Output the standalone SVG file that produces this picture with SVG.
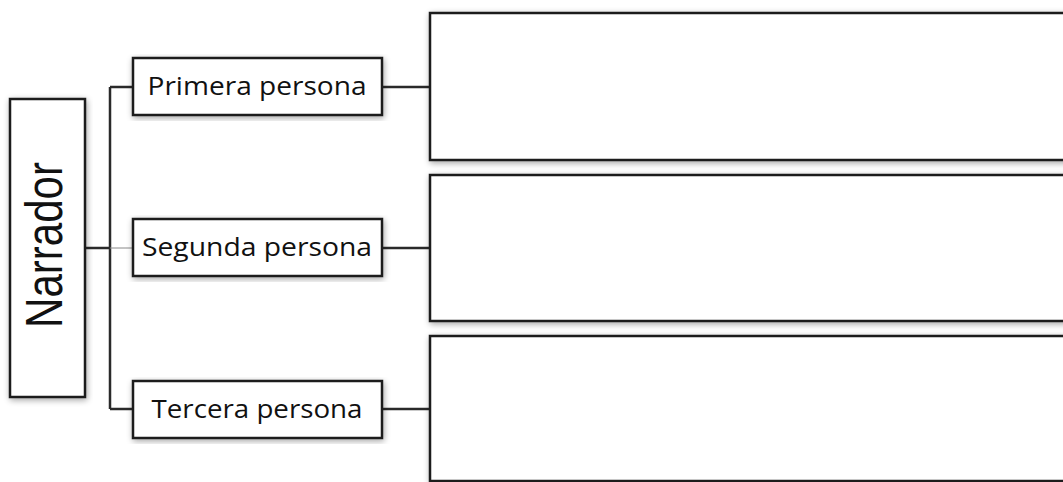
<svg xmlns="http://www.w3.org/2000/svg" width="1063" height="482" viewBox="0 0 1063 482">
<defs>
<filter id="sh" x="-10%" y="-10%" width="120%" height="120%">
<feGaussianBlur in="SourceAlpha" stdDeviation="3"/>
<feOffset dx="1" dy="2" result="b"/>
<feComponentTransfer><feFuncA type="linear" slope="0.35"/></feComponentTransfer>
<feMerge><feMergeNode/><feMergeNode in="SourceGraphic"/></feMerge>
</filter>
</defs>
<style>
.box{fill:#fff;stroke:#1a1a1a;stroke-width:2.5;filter:url(#sh)}
.ln{fill:none;stroke:#2a2a2a;stroke-width:2.5}
.lbl{font-family:"Open Sans","DejaVu Sans",sans-serif;font-size:25px;fill:#111;text-anchor:middle}
</style>
<rect width="1063" height="482" fill="#fff"/>
<g id="connectors">
<path class="ln" d="M85 248 H110 M110 87 V409 M110 87 H133 M110 409 H133 M382 87 H430 M382 248 H430 M382 409 H430"/>
<path d="M110 248 H133" stroke="#888" stroke-width="1" fill="none"/>
</g>
<g id="narrador">
<rect class="box" x="10" y="99" width="75" height="298"/>
<text transform="translate(62 245) rotate(-90)" font-family="'Liberation Sans',Arial,sans-serif" font-size="52" text-anchor="middle" textLength="166" lengthAdjust="spacingAndGlyphs" fill="#111">Narrador</text>
</g>
<g id="primera">
<rect class="box" x="133" y="58" width="249" height="57"/>
<text class="lbl" x="257" y="95" textLength="219" lengthAdjust="spacingAndGlyphs">Primera persona</text>
</g>
<g id="segunda">
<rect class="box" x="133" y="219" width="249" height="57"/>
<text class="lbl" x="257" y="256" textLength="230" lengthAdjust="spacingAndGlyphs">Segunda persona</text>
</g>
<g id="tercera">
<rect class="box" x="133" y="381" width="249" height="57"/>
<text class="lbl" x="257" y="418" textLength="211" lengthAdjust="spacingAndGlyphs">Tercera persona</text>
</g>
<g id="box1"><rect class="box" x="430" y="13" width="640" height="147"/></g>
<g id="box2"><rect class="box" x="430" y="175" width="640" height="146"/></g>
<g id="box3"><rect class="box" x="430" y="336" width="640" height="145"/></g>
</svg>
